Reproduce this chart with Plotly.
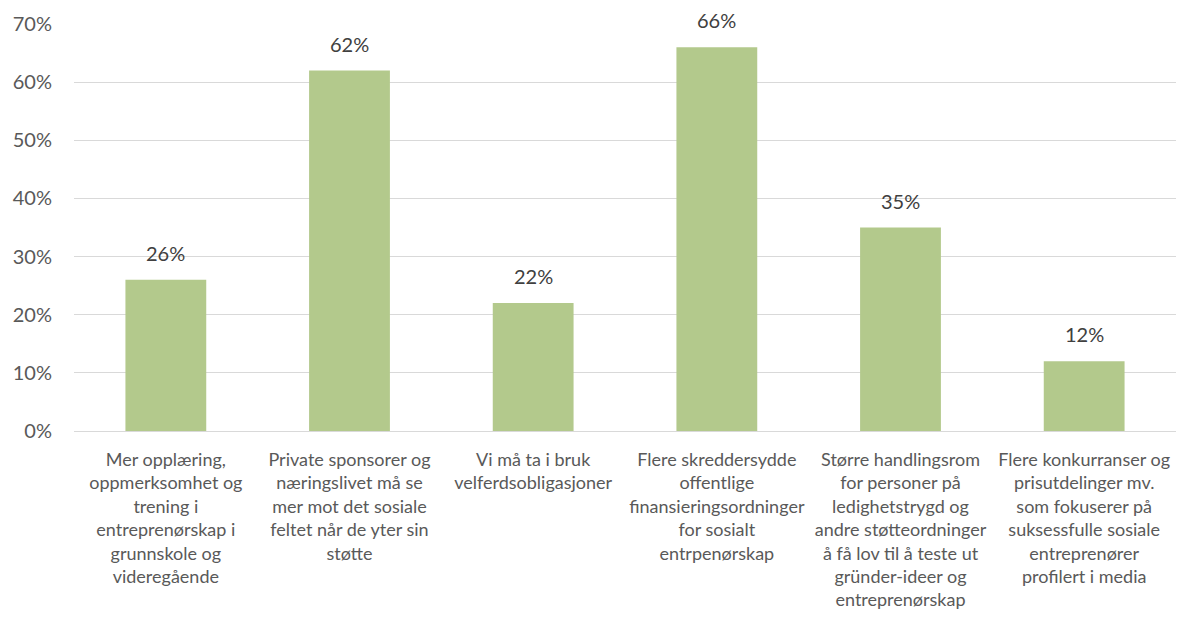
import plotly.graph_objects as go

categories = [
    "Mer opplæring,<br>oppmerksomhet og<br>trening i<br>entreprenørskap i<br>grunnskole og<br>videregående",
    "Private sponsorer og<br>næringslivet må se<br>mer mot det sosiale<br>feltet når de yter sin<br>støtte",
    "Vi må ta i bruk<br>velferdsobligasjoner",
    "Flere skreddersydde<br>offentlige<br>finansieringsordninger<br>for sosialt<br>entrpenørskap",
    "Større handlingsrom<br>for personer på<br>ledighetstrygd og<br>andre støtteordninger<br>å få lov til å teste ut<br>gründer-ideer og<br>entreprenørskap",
    "Flere konkurranser og<br>prisutdelinger mv.<br>som fokuserer på<br>suksessfulle sosiale<br>entreprenører<br>profilert i media",
]
values = [0.26, 0.62, 0.22, 0.66, 0.35, 0.12]
value_labels = ["26%", "62%", "22%", "66%", "35%", "12%"]
tick_vals = [0, 0.1, 0.2, 0.3, 0.4, 0.5, 0.6, 0.7]
tick_text = ["0%", "10%", "20%", "30%", "40%", "50%", "60%", "70%"]

FONT = "Lato, Carlito, Calibri, sans-serif"

fig = go.Figure(
    go.Bar(
        x=categories,
        y=values,
        marker=dict(color="#b3c98c", line=dict(width=0)),
        width=0.44,
    )
)

# value labels floated above each bar
for cat, val, lab in zip(categories, values, value_labels):
    fig.add_annotation(
        x=cat,
        y=val,
        text=lab,
        showarrow=False,
        yanchor="bottom",
        yshift=13,
        font=dict(size=20, color="#404040", family=FONT),
    )

fig.update_layout(
    width=1177,
    height=632,
    margin=dict(l=74, r=1, t=24, b=201),
    paper_bgcolor="white",
    plot_bgcolor="white",
    showlegend=False,
    font=dict(family=FONT, color="#595959"),
    xaxis=dict(
        showgrid=False,
        showline=False,
        ticks="",
        tickangle=0,
        ticklabelstandoff=16,
        tickfont=dict(size=18, color="#595959", family=FONT),
    ),
    yaxis=dict(
        range=[0, 0.7],
        tickvals=tick_vals,
        ticktext=tick_text,
        showgrid=True,
        gridcolor="#d9d9d9",
        gridwidth=1,
        zeroline=True,
        zerolinecolor="#d9d9d9",
        zerolinewidth=1,
        showline=False,
        ticks="",
        ticklabelstandoff=21,
        tickfont=dict(size=20, color="#595959", family=FONT),
    ),
)

fig.write_html("out.html")
